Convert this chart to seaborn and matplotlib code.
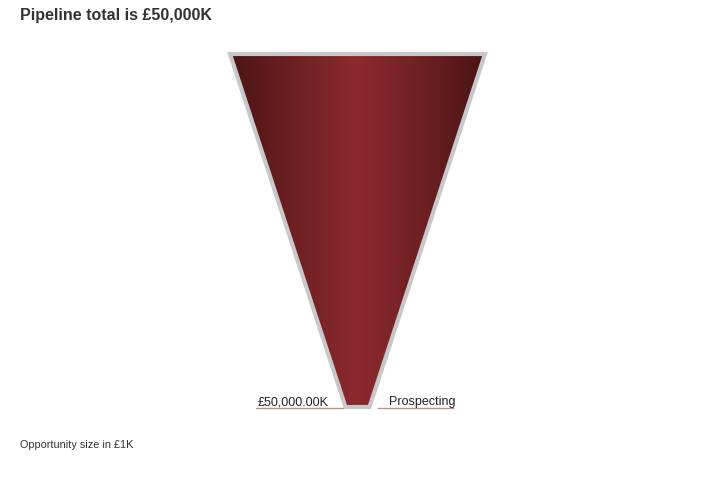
import numpy as np
import pandas as pd
import seaborn as sns
import matplotlib
matplotlib.use("Agg")
import matplotlib.pyplot as plt
from matplotlib.patches import Polygon
from matplotlib.colors import LinearSegmentedColormap

# data
stages = ["Prospecting"]
values = [50000.0]
title_text = "Pipeline total is £50,000K"
footer_text = "Opportunity size in £1K"

sns.set_style("white")
plt.rcParams["font.family"] = ["Liberation Sans", "DejaVu Sans"]

df = pd.DataFrame({"stage": stages, "value": values})
total = df["value"].sum()

fig = plt.figure(figsize=(7.15, 4.8), dpi=100)
ax = fig.add_axes([0, 0, 1, 1])
ax.set_xlim(0, 715)
ax.set_ylim(480, 0)
ax.axis("off")

# funnel layout (pixel space)
cx = 357.5
top_y, bot_y = 54, 407
max_half = 127.5
neck_half = 12

cmap = LinearSegmentedColormap.from_list(
    "fun", ["#4a1416", "#6e2023", "#8c2a2e", "#6e2023", "#4a1416"])

n = len(df)
seg_h = (bot_y - top_y) / n
for i, row in df.iterrows():
    y0 = top_y + i * seg_h
    y1 = y0 + seg_h
    h0 = max_half * row["value"] / total
    h1 = neck_half
    pts = [(cx - h0, y0), (cx + h0, y0), (cx + h1, y1), (cx - h1, y1)]
    clip = Polygon(pts, closed=True, facecolor="none", edgecolor="none")
    ax.add_patch(clip)
    grad = np.linspace(0, 1, 256).reshape(1, -1)
    im = ax.imshow(grad, cmap=cmap, aspect="auto",
                   extent=(cx - h0, cx + h0, y1, y0), zorder=3)
    im.set_clip_path(clip)
    border = Polygon(pts, closed=True, facecolor="none", edgecolor="#c8c8c8",
                     lw=3.0, joinstyle="miter", zorder=4)
    ax.add_patch(border)

    # labels
    ly = y1 - 1.5
    ax.text(cx - h1 - 17, ly, f"£{row['value']:,.2f}K", ha="right", va="baseline",
            fontsize=9, color="#222222", zorder=5)
    ax.text(cx + h1 + 19, ly, row["stage"], ha="left", va="baseline",
            fontsize=9, color="#222222", zorder=5)
    ax.plot([256, cx - h1 - 2], [y1 + 0.5, y1 + 0.5], color="#c58a8a", lw=1, zorder=1)
    ax.plot([cx + h1 + 8, 453], [y1 + 0.5, y1 + 0.5], color="#c58a8a", lw=1, zorder=1)

ax.text(20, 20, title_text, ha="left", va="baseline", fontsize=11.5,
        fontweight="bold", color="#333333")
ax.text(20, 448, footer_text, ha="left", va="baseline", fontsize=7.8,
        color="#333333")

fig.savefig("out.png", dpi=100)
